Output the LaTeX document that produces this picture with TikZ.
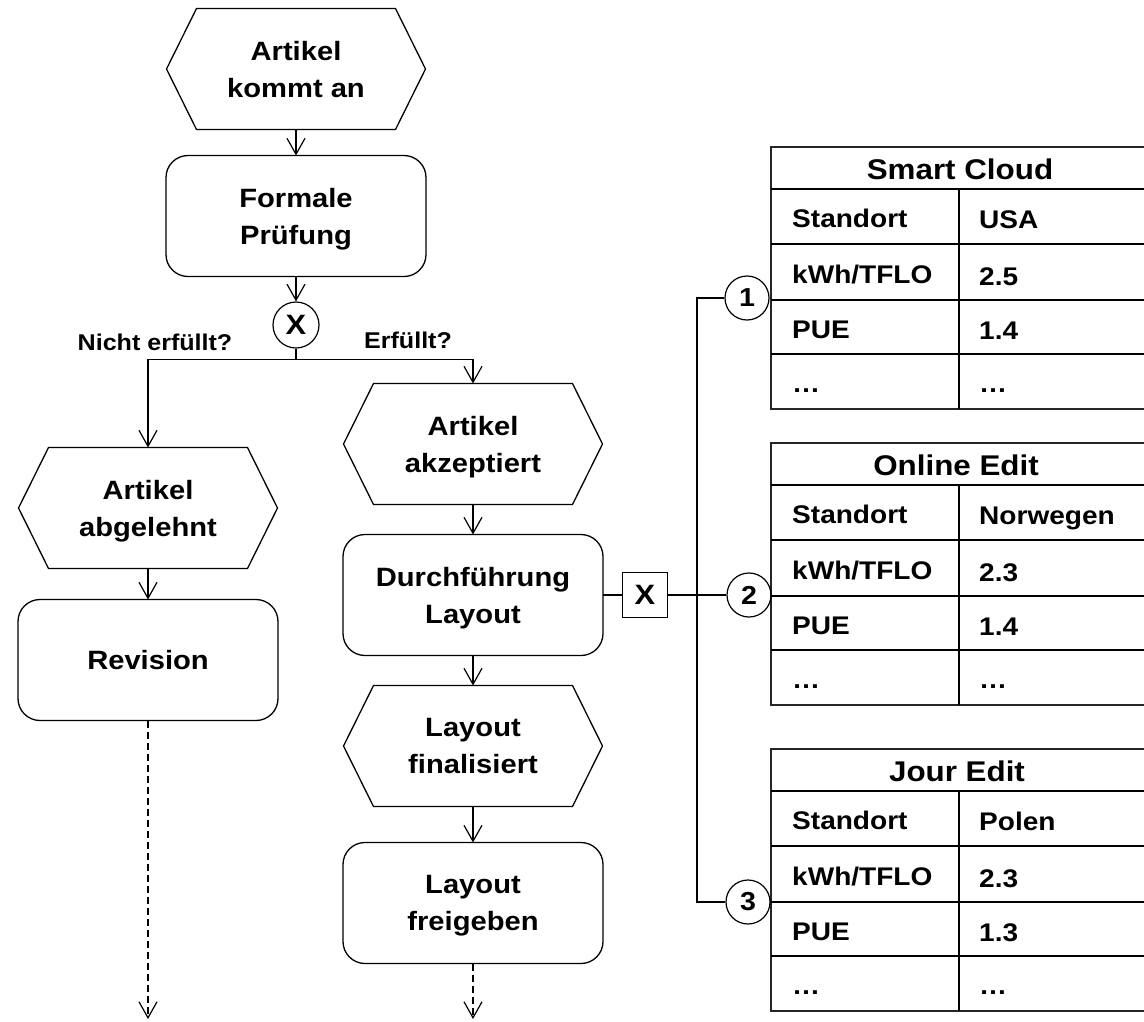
\documentclass[tikz,border=0pt]{standalone}
\usepackage{fontspec}
\setmainfont{Liberation Sans}[FakeStretch=1.10]
\usetikzlibrary{arrows.meta}

% hexagonal event outline around an (undrawn) event node
\newcommand\eventhex[1]{%
  \draw[line width=1.3pt]
    ([xshift=30pt]#1.north west) -- ([xshift=-30pt]#1.north east) -- (#1.east)
    -- ([xshift=-30pt]#1.south east) -- ([xshift=30pt]#1.south west) -- (#1.west) -- cycle;}

% data table: #1 name, #2 top, #3 title, #4 location, #5 kWh value, #6 PUE value, #7 title centre
\newcommand\datatable[7]{%
  \begin{scope}[shift={(0,#2)}]
    \node[tblframe, anchor=north west] (#1) at (771,0) {};
    \draw[tblrule] (771,42) -- (1149,42);
    \draw[tblrule] (771,97) -- (1149,97);
    \draw[tblrule] (771,153) -- (1149,153);
    \draw[tblrule] (771,207) -- (1149,207);
    \draw[tblrule] (959,42) -- (959,262);
    \node[titletxt] (#1-title) at (#7,32) {#3};
    \node[celltxt, anchor=base west] (#1-k1) at (792,80.5) {Standort};
    \node[celltxt, anchor=base west] (#1-v1) at (979,81) {#4};
    \node[celltxt, anchor=base west] (#1-k2) at (792,136) {kWh/TFLO};
    \node[celltxt, anchor=base west] (#1-v2) at (979,138.5) {#5};
    \node[celltxt, anchor=base west] (#1-k3) at (792,191) {PUE};
    \node[celltxt, anchor=base west] (#1-v3) at (979,192) {#6};
    \node[celltxt, anchor=base west] (#1-k4) at (792,245) {\ldots};
    \node[celltxt, anchor=base west] (#1-v4) at (979,245) {\ldots};
  \end{scope}}

\tikzset{
  txt/.style={font=\fontsize{26.5pt}{37pt}\selectfont\bfseries, align=center,
    text depth=0pt, inner sep=0pt, outer sep=0pt},
  funcbox/.style={txt, draw, line width=1.3pt, rounded corners=22pt,
    minimum width=260pt, minimum height=121pt},
  evtbox/.style={txt, minimum width=259pt, minimum height=121pt},
  flow/.style={line width=1.2pt, -{Straight Barb[length=16pt,width=18pt,line width=1.2pt]}},
  dashedflow/.style={flow, dash pattern=on 7pt off 4pt},
  plainline/.style={line width=1.2pt},
  xorcircle/.style={circle, draw, line width=1.2pt, minimum size=46pt, inner sep=0pt,
    font=\fontsize{28pt}{30pt}\selectfont\bfseries},
  numcircle/.style={circle, draw, line width=1.2pt, minimum size=44pt, inner sep=0pt,
    font=\fontsize{26pt}{30pt}\selectfont\bfseries},
  xorbox/.style={draw, line width=1.2pt, minimum size=45pt, inner sep=0pt,
    font=\fontsize{28pt}{30pt}\selectfont\bfseries},
  condlabel/.style={font=\fontsize{22.8pt}{26pt}\selectfont\bfseries, anchor=base, inner sep=0pt},
  tblframe/.style={draw=black!85, line width=1.6pt, minimum width=378pt, minimum height=262pt,
    inner sep=0pt, outer sep=0pt},
  tblrule/.style={line width=2.2pt},
  celltxt/.style={font=\fontsize{25.5pt}{30pt}\selectfont\bfseries, anchor=base, inner sep=0pt},
  titletxt/.style={font=\fontsize{28.5pt}{30pt}\selectfont\bfseries, anchor=base, inner sep=0pt},
}

\begin{document}
\begin{tikzpicture}[x=1pt, y=-1pt]
  \clip (0,0) rectangle (1144,1021);
  \fill[white] (0,0) rectangle (1144,1021);

  % main flow
  \node[evtbox] (e1) at (296,69) {Artikel\\kommt an};
  \eventhex{e1}
  \node[funcbox] (f1) at (296,216) {Formale\\Prüfung};
  \node[xorcircle] (x1) at (296,325) {X};

  % rejected branch
  \node[evtbox] (e4) at (148,508) {Artikel\\abgelehnt};
  \eventhex{e4}
  \node[funcbox] (f4) at (148,660) {Revision};

  % accepted branch
  \node[evtbox] (e2) at (473,444) {Artikel\\akzeptiert};
  \eventhex{e2}
  \node[funcbox] (f2) at (473,595) {Durchführung\\Layout};
  \node[evtbox] (e3) at (473,746) {Layout\\finalisiert};
  \eventhex{e3}
  \node[funcbox] (f3) at (473,903) {Layout\\freigeben};

  % connectors
  \draw[flow] (e1.south) -- (f1.north);
  \draw[flow] (f1.south) -- (x1.north);
  \draw[plainline] (x1.south) -- ++(0,11) coordinate (split);
  \draw[flow] (split) -| (e4.north);
  \draw[flow] (split) -| (e2.north);
  \draw[flow] (e4.south) -- (f4.north);
  \draw[flow] (e2.south) -- (f2.north);
  \draw[flow] (f2.south) -- (e3.north);
  \draw[flow] (e3.south) -- (f3.north);

  \coordinate (out1) at (148,1019);
  \coordinate (out2) at (473,1019);
  \draw[dashedflow] (f4.south) -- (out1);
  \draw[dashedflow] (f3.south) -- (out2);

  \node[condlabel] (lno) at (155,350) {Nicht erfüllt?};
  \node[condlabel] (lyes) at (408,348) {Erfüllt?};

  % provider tables
  \datatable{t1}{147}{Smart Cloud}{USA}{2.5}{1.4}{960}
  \datatable{t2}{443}{Online Edit}{Norwegen}{2.3}{1.4}{956}
  \datatable{t3}{749}{Jour Edit}{Polen}{2.3}{1.3}{957}

  % provider selection
  \node[xorbox] (xb) at (645,595) {X};
  \node[numcircle] (c1) at (747,298) {1};
  \node[numcircle] (c2) at (749,595) {2};
  \node[numcircle] (c3) at (748,902) {3};
  \coordinate (v1) at (697,298);
  \coordinate (v3) at (697,902);

  \draw[plainline] (f2.east) -- (xb.west);
  \draw[plainline] (xb.east) -- (c2.west);
  \draw[plainline] (c1.west) -- (v1) -- (v3) -- (c3.west);
\end{tikzpicture}
\end{document}
